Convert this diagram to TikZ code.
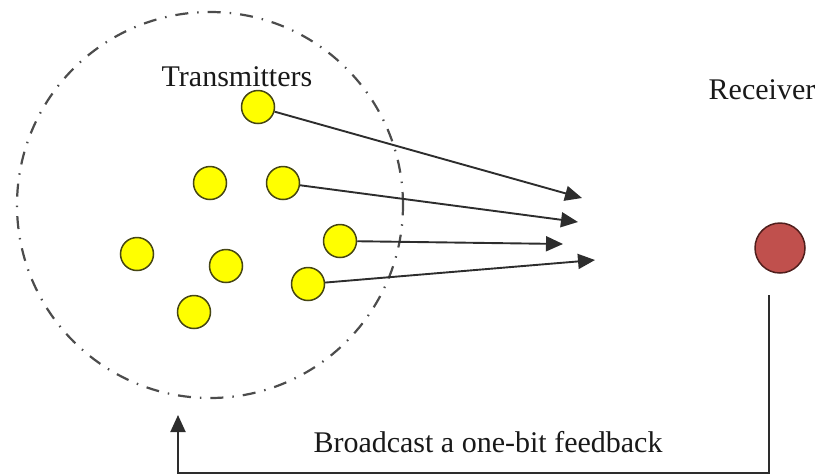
\documentclass[tikz,border=0pt]{standalone}
\usepackage{fontspec}
\setmainfont{Liberation Serif}
\usetikzlibrary{arrows.meta}
\definecolor{lineC}{RGB}{45,45,45}
\definecolor{yel}{RGB}{255,255,0}
\definecolor{yelB}{RGB}{70,70,20}
\definecolor{recC}{RGB}{192,80,77}
\definecolor{recB}{RGB}{80,30,28}
\tikzset{
  tx/.style={circle,draw=yelB,fill=yel,line width=1.5pt,minimum size=33pt,inner sep=0pt},
  rx/.style={circle,draw=recB,fill=recC,line width=1.5pt,minimum size=50pt,inner sep=0pt},
  link/.style={draw=lineC,line width=1.9pt,-{Triangle[length=17pt,width=15pt]}},
  lbl/.style={font=\fontsize{30}{36}\selectfont,inner sep=0pt,text=black!90},
  region/.style={draw=black!70,line width=2.2pt,dash pattern=on 13pt off 9pt on 1.5pt off 9pt}
}
\begin{document}
\begin{tikzpicture}[x=1pt,y=-1pt]
\useasboundingbox (0,0) rectangle (821,475);
\node[region,circle,minimum size=386pt,inner sep=0pt] (area) at (210,205) {};
\node[lbl] (tlabel) at (237,77) {Transmitters};
\node[lbl] (rlabel) at (762,90) {Receiver};
\node[lbl] (flabel) at (488,442) {Broadcast a one-bit feedback};
\node[tx] (t1) at (258,107) {};
\node[tx] (t2) at (210,183) {};
\node[tx] (t3) at (283,183) {};
\node[tx] (t4) at (340,241) {};
\node[tx] (t5) at (137,254) {};
\node[tx] (t6) at (226,266) {};
\node[tx] (t7) at (308,284) {};
\node[tx] (t8) at (194,312) {};
\node[rx] (r) at (780,248) {};
\coordinate (a1) at (582,198);
\coordinate (a2) at (578,222);
\coordinate (a3) at (563,244);
\coordinate (a4) at (595,260);
\draw[link] (t1) -- (a1);
\draw[link] (t3) -- (a2);
\draw[link] (t4) -- (a3);
\draw[link] (t7) -- (a4);
\coordinate (fbs) at (769,295);
\coordinate (fbb) at (0,473);
\coordinate (fbe) at (178,415);
\draw[link] (fbs) -- (fbs |- fbb) -- (fbe |- fbb) -- (fbe);
\end{tikzpicture}
\end{document}
